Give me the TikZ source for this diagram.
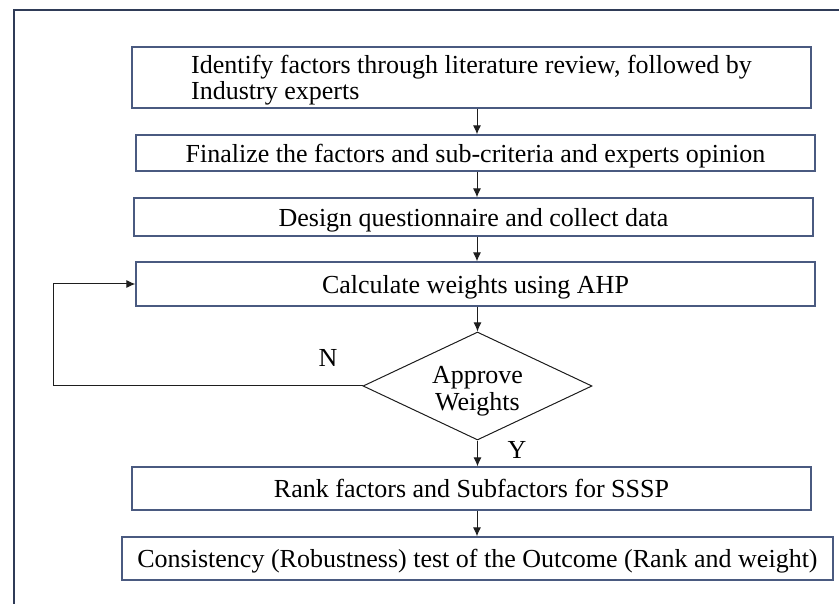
\documentclass[tikz,border=0pt]{standalone}
\usepackage{fontspec}
\setmainfont{Liberation Serif}
\usetikzlibrary{arrows.meta,shapes.geometric}
\definecolor{framecol}{HTML}{2F3B57}
\definecolor{boxcol}{HTML}{4A5A80}
\definecolor{linecol}{HTML}{1E1E1E}
\begin{document}
\begin{tikzpicture}[x=1pt,y=-1pt,
  stepbox/.style={draw=boxcol,line width=1.3pt,rectangle,inner sep=0pt,
    minimum width=679pt,font=\fontsize{26}{26}\selectfont,text=black,
    text depth=0pt},
  decide/.style={draw=linecol,line width=1pt,diamond,inner sep=0pt,
    minimum width=229pt,minimum height=108pt},
  decidetext/.style={align=center,inner sep=0pt,text depth=0pt,
    font=\fontsize{26}{27}\selectfont},
  flow/.style={draw=linecol,line width=1pt,-{Latex[length=9pt,width=8pt]}},
  lbl/.style={font=\fontsize{26}{26}\selectfont,inner sep=0pt}]
\useasboundingbox (0,0) rectangle (839,604);
% outer frame
\draw[framecol,line width=1.5pt] (14,604) -- (14,10) -- (839,10);

\node[stepbox,minimum height=61pt,align=left] (b1) at (471.5,77.5)
  {Identify factors through literature review, followed by\\Industry experts};
\node[stepbox,minimum height=36pt] (b2) at (475.5,153)
  {Finalize the factors and sub-criteria and experts opinion};
\node[stepbox,minimum height=38pt] (b3) at (473.5,217)
  {Design questionnaire and collect data};
\node[stepbox,minimum height=44pt] (b4) at (475.5,284)
  {Calculate weights using AHP};
\node[decide] (d) at (477.5,386) {};
\node[decidetext] (dt) at (477.5,388) {Approve\\Weights};
\node[stepbox,minimum height=43pt] (b5) at (471.5,488.5)
  {Rank factors and Subfactors for SSSP};
\node[stepbox,minimum height=43pt,minimum width=711pt] (b6) at (477.5,558.5)
  {Consistency (Robustness) test of the Outcome (Rank and weight)};

\coordinate (ax) at (477,0);
\coordinate (fb) at (53,386);

\draw[flow] (b1.south -| ax) -- (b2.north -| ax);
\draw[flow] (b2.south -| ax) -- (b3.north -| ax);
\draw[flow] (b3.south -| ax) -- (b4.north -| ax);
\draw[flow] (b4.south -| d.north) -- (d.north);
\draw[flow] (d.south) -- (b5.north -| d.south);
\draw[flow] (b5.south -| ax) -- (b6.north -| ax);
\draw[flow] (d.west) -- (fb) |- (b4.west);

\node[lbl] (n) at (328,358) {N};
\node[lbl] (y) at (517,450) {Y};
\end{tikzpicture}
\end{document}
